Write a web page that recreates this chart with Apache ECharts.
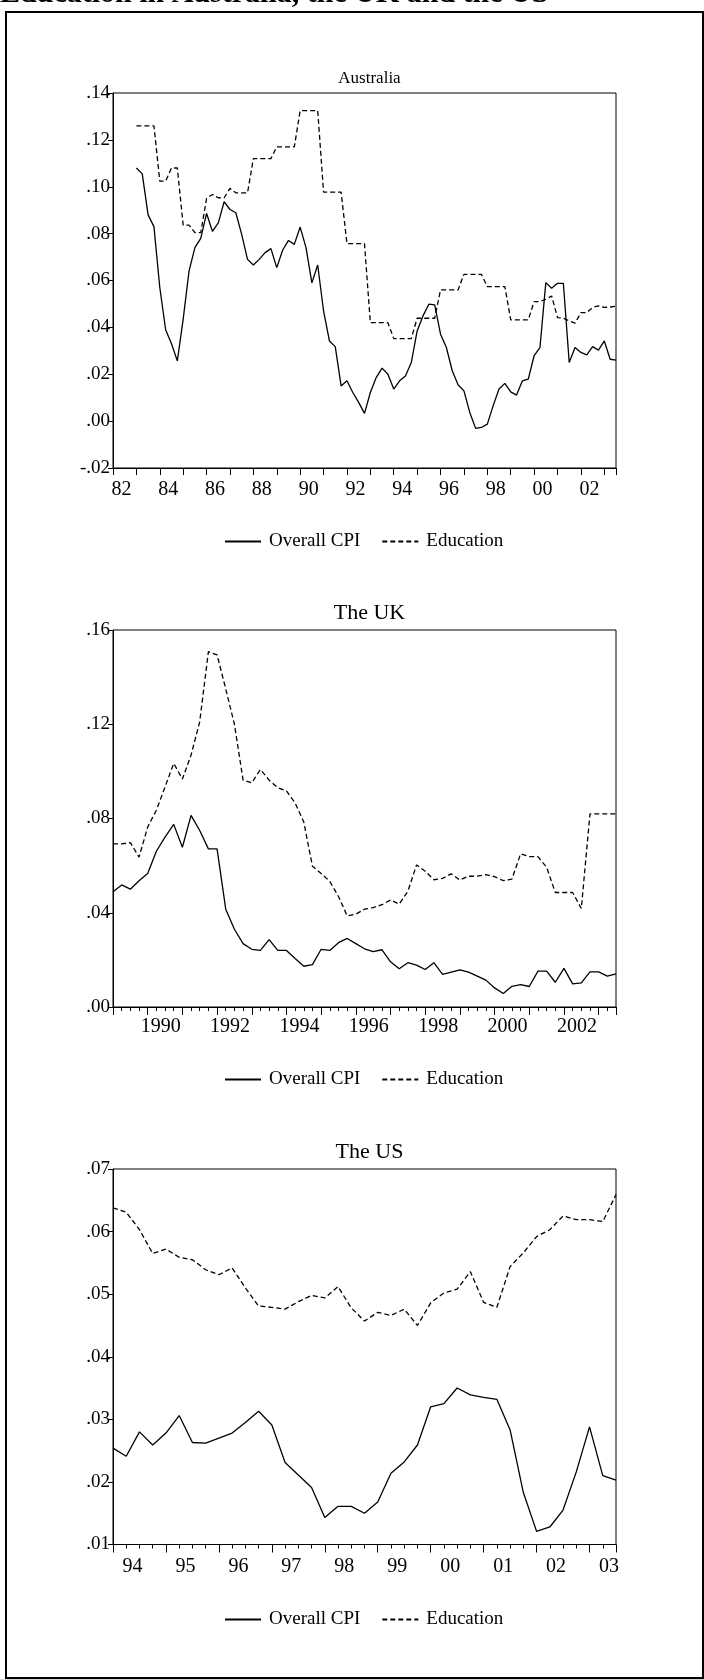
<!DOCTYPE html>
<html><head><meta charset="utf-8">
<script src="https://cdn.jsdelivr.net/npm/echarts@6/dist/echarts.min.js"></script>
<style>html,body{margin:0;padding:0;background:#fff}#c{width:704px;height:1679px}</style>
</head><body><div id="c"></div>
<script>
// ---------- data ----------
const pageTitle = 'Education in Australia, the UK and the US';
const seriesNames = ['Overall CPI', 'Education'];
const panelTitles = ['Australia', 'The UK', 'The US'];

const ausStart = '1983Q1';
const ausCPI = [0.108,0.1055,0.088,0.083,0.057,0.039,0.033,0.0257,0.0435,0.064,0.074,0.078,0.0886,0.081,0.0846,0.0936,0.0903,0.0889,0.0797,0.069,0.0666,0.069,0.0719,0.0736,0.0655,0.0729,0.0771,0.0754,0.0828,0.074,0.059,0.0666,0.047,0.0342,0.0318,0.015,0.0172,0.0122,0.008,0.0033,0.0122,0.0186,0.0226,0.02,0.0137,0.0172,0.0193,0.025,0.0385,0.0449,0.0499,0.0496,0.0371,0.0314,0.0215,0.0155,0.0129,0.0037,-0.0031,-0.0027,-0.0013,0.0066,0.0137,0.0161,0.0125,0.0111,0.0172,0.0179,0.0279,0.0314,0.0591,0.0567,0.0588,0.0588,0.025,0.0314,0.0293,0.0283,0.0318,0.0303,0.0342,0.0264,0.026];
const ausEdu = [0.126,0.126,0.126,0.126,0.1024,0.1024,0.108,0.108,0.0836,0.0836,0.0804,0.0804,0.095,0.0967,0.0953,0.0953,0.0993,0.0974,0.0974,0.0974,0.112,0.112,0.112,0.112,0.117,0.117,0.117,0.117,0.1325,0.1325,0.1325,0.1325,0.0977,0.0977,0.0977,0.0977,0.0757,0.0757,0.0757,0.0757,0.042,0.042,0.042,0.042,0.0352,0.0352,0.0352,0.0352,0.0439,0.0439,0.0439,0.0439,0.056,0.056,0.056,0.056,0.0626,0.0626,0.0626,0.0626,0.0574,0.0574,0.0574,0.0574,0.0432,0.0432,0.0432,0.0432,0.051,0.051,0.052,0.0534,0.0442,0.0439,0.0428,0.0418,0.0463,0.0463,0.0485,0.0492,0.0485,0.0487,0.049];

const ukStart = '1989Q1';
const ukCPI = [0.0489,0.0518,0.050,0.0536,0.0567,0.0661,0.0721,0.0775,0.0678,0.0813,0.0749,0.0671,0.0671,0.0415,0.033,0.0269,0.0245,0.024,0.0286,0.024,0.024,0.0206,0.0173,0.018,0.0245,0.024,0.0273,0.0291,0.0269,0.0247,0.0235,0.0243,0.0192,0.0162,0.0188,0.0178,0.0159,0.0188,0.0138,0.0148,0.0158,0.0148,0.0131,0.0114,0.0081,0.0057,0.0088,0.0095,0.0087,0.0152,0.0152,0.0105,0.0164,0.0098,0.0102,0.0149,0.0149,0.0131,0.0141];
const ukEdu = [0.0692,0.0692,0.0698,0.0636,0.0764,0.0835,0.0934,0.1034,0.0967,0.1069,0.1211,0.1508,0.1494,0.135,0.120,0.0963,0.0951,0.1008,0.0963,0.0931,0.0917,0.0866,0.0785,0.0597,0.0567,0.0533,0.0469,0.0387,0.0394,0.0415,0.0422,0.0434,0.0454,0.0437,0.0491,0.0603,0.0576,0.054,0.0546,0.0565,0.0539,0.0555,0.0555,0.0562,0.0553,0.0536,0.0543,0.065,0.0638,0.0638,0.0593,0.0486,0.0486,0.0486,0.0418,0.082,0.082,0.082,0.082];

const usStart = '1994Q1';
const usCPI = [0.0254,0.0241,0.028,0.0259,0.0278,0.0306,0.0263,0.0262,0.027,0.0278,0.0295,0.0313,0.0291,0.0231,0.0211,0.0191,0.0143,0.0161,0.0161,0.015,0.0168,0.0214,0.0232,0.0259,0.032,0.0325,0.035,0.0339,0.0335,0.0332,0.0283,0.0183,0.0121,0.0128,0.0155,0.0216,0.0288,0.021,0.0203];
const usEdu = [0.0638,0.0631,0.0603,0.0565,0.0572,0.0559,0.0555,0.0539,0.0531,0.0542,0.051,0.0481,0.0479,0.0476,0.0488,0.0498,0.0494,0.0512,0.0478,0.0457,0.0471,0.0466,0.0476,0.045,0.0486,0.0502,0.0508,0.0536,0.0487,0.0479,0.0544,0.0566,0.0592,0.0603,0.0625,0.0619,0.0619,0.0616,0.0659];

// ---------- helpers ----------
function quarterLabels(start, n) {
  let y = parseInt(start.slice(0, 4), 10), q = parseInt(start.slice(5), 10);
  const out = [];
  for (let i = 0; i < n; i++) { out.push(y + 'Q' + q); q++; if (q > 4) { q = 1; y++; } }
  return out;
}
function qToNum(s) { return parseInt(s.slice(0, 4), 10) + (parseInt(s.slice(5), 10) - 1) / 4; }
function pairs(start, vals) { const lab = quarterLabels(start, vals.length); return vals.map((v, i) => [qToNum(lab[i]), v]); }

const FONT = '"Liberation Serif", "Times New Roman", serif';
const PL = 113, PW = 503;
const panels = [
  { top: 93, height: 375, xmin: 1982, xmax: 2003.5, ymin: -0.02, ymax: 0.14, yint: 0.02, minor: false, lblMargin: 12,
    fmt: v => (Number.isInteger(v) && v % 2 === 0) ? String(v % 100).padStart(2, '0') : '',
    cpi: pairs(ausStart, ausCPI), edu: pairs(ausStart, ausEdu), titleTop: 65, titleSize: 17, legendTop: 527 },
  { top: 630, height: 377, xmin: 1989, xmax: 2003.5, ymin: 0, ymax: 0.16, yint: 0.04, minor: true, lblMargin: 10,
    fmt: v => (Number.isInteger(v) && v % 2 === 0) ? String(v) : '',
    cpi: pairs(ukStart, ukCPI), edu: pairs(ukStart, ukEdu), titleTop: 597, titleSize: 22, legendTop: 1065 },
  { top: 1169, height: 375.5, xmin: 1994, xmax: 2003.5, ymin: 0.01, ymax: 0.07, yint: 0.01, minor: true, lblMargin: 12,
    fmt: v => Number.isInteger(v) ? String(v % 100).padStart(2, '0') : '',
    cpi: pairs(usStart, usCPI), edu: pairs(usStart, usEdu), titleTop: 1136, titleSize: 22, legendTop: 1605 }
];

const grids = [], xAxes = [], yAxes = [], series = [], titles = [], legends = [];
panels.forEach((p, i) => {
  const yearW = PW / (p.xmax - p.xmin);
  grids.push({ left: PL, width: PW, top: p.top, height: p.height, show: true, borderColor: '#000', borderWidth: 1, containLabel: false });
  xAxes.push({
    type: 'value', gridIndex: i, min: p.xmin, max: p.xmax, interval: 1,
    axisLine: { show: true, onZero: false, lineStyle: { color: '#000', width: 1 } },
    axisTick: { show: true, inside: false, length: p.minor ? 8 : 7, lineStyle: { color: '#000', width: 1 } },
    minorTick: { show: p.minor, splitNumber: 4, length: 4, lineStyle: { color: '#000', width: 1 } },
    splitLine: { show: false },
    axisLabel: {
      show: true, margin: p.lblMargin, color: '#000', fontFamily: FONT, fontSize: 20,
      formatter: p.fmt, padding: [0, 0, 0, Math.round(0.74 * yearW)],
      showMinLabel: true, showMaxLabel: true
    }
  });
  yAxes.push({
    type: 'value', gridIndex: i, min: p.ymin, max: p.ymax, interval: p.yint,
    axisLine: { show: true, lineStyle: { color: '#000', width: 1 } },
    axisTick: { show: true, inside: false, length: 5, lineStyle: { color: '#000', width: 1 } },
    splitLine: { show: false },
    axisLabel: {
      color: '#000', fontFamily: FONT, fontSize: 19, margin: 3,
      formatter: v => { const s = Math.abs(v) < 1e-9 ? '0.00' : v.toFixed(2); return s.replace('0.', '.'); }
    }
  });
  titles.push({ text: panelTitles[i], left: PL + PW / 2, textAlign: 'center', top: p.titleTop,
    textStyle: { fontFamily: FONT, fontWeight: 'normal', fontSize: p.titleSize, color: '#000', lineHeight: p.titleSize } });
  series.push({ name: seriesNames[0], type: 'line', xAxisIndex: i, yAxisIndex: i, data: p.cpi,
    symbol: 'none', showSymbol: false, lineStyle: { color: '#000', width: 1.3, type: 'solid' }, itemStyle: { color: '#000' }, animation: false });
  series.push({ name: seriesNames[1], type: 'line', xAxisIndex: i, yAxisIndex: i, data: p.edu,
    symbol: 'none', showSymbol: false, lineStyle: { color: '#000', width: 1.3, type: [5, 3] }, itemStyle: { color: '#000' }, animation: false });
  legends.push({ data: seriesNames, left: 219, top: p.legendTop, orient: 'horizontal', itemWidth: 36, itemHeight: 12, itemGap: 21,
    selectedMode: false, itemStyle: { opacity: 0, color: 'transparent', borderWidth: 0 },
    textStyle: { fontFamily: FONT, fontSize: 19, color: '#000', padding: [0, 0, 0, 3] } });
});

const chart = echarts.init(document.getElementById('c'), null, { renderer: 'canvas' });
chart.setOption({
  backgroundColor: '#fff', animation: false,
  title: titles, legend: legends, grid: grids, xAxis: xAxes, yAxis: yAxes, series: series,
  graphic: [
    { type: 'rect', shape: { x: 6, y: 12, width: 697, height: 1666 }, style: { fill: 'none', stroke: '#000', lineWidth: 2 } },
    { type: 'text', left: 0, top: -21, style: { text: pageTitle, font: 'bold 30px ' + FONT, fill: '#000' } }
  ]
});
</script></body></html>
